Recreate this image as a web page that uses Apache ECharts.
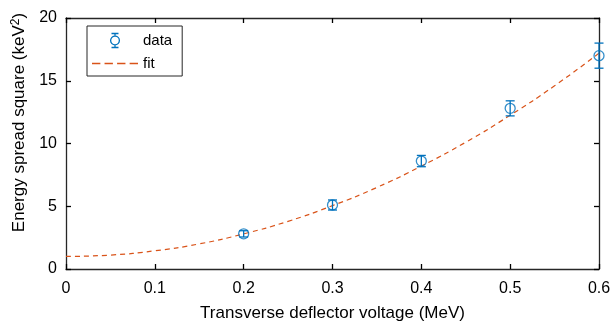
<!DOCTYPE html>
<html><head><meta charset="utf-8">
<script src="https://cdn.jsdelivr.net/npm/echarts@6/dist/echarts.min.js"></script>
<style>html,body{margin:0;padding:0;background:#fff}#c{width:615px;height:327px}</style>
</head><body><div id="c"></div>
<script>
const voltage = [0.2, 0.3, 0.4, 0.5, 0.6];
const spread = [2.8, 5.1, 8.6, 12.8, 17.0];
const errLow = [2.55, 4.7, 8.15, 12.2, 16.0];
const errHigh = [3.05, 5.5, 9.05, 13.4, 18.0];
const fitX = [0, 0.05, 0.1, 0.15, 0.2, 0.25, 0.3, 0.35, 0.4, 0.45, 0.5, 0.55, 0.6];
const fitY = [1.0, 1.11, 1.45, 2.0, 2.8, 3.8, 5.05, 6.5, 8.2, 10.1, 12.25, 14.6, 17.2];
const xTicks = [0, 0.1, 0.2, 0.3, 0.4, 0.5, 0.6];
const yTicks = [0, 5, 10, 15, 20];

const blue = '#0072BD', orange = '#D95319', axisCol = '#262626';
const font = 'Liberation Sans, Arial, Helvetica, sans-serif';
const chart = echarts.init(document.getElementById('c'));
function axis(extra) {
  return Object.assign({
    axisLine: {show: true, onZero: false, lineStyle: {color: axisCol, width: 1.3}},
    axisTick: {show: true, inside: true, length: 5, lineStyle: {color: '#000', width: 1.3}},
    splitLine: {show: false}
  }, extra);
}
chart.setOption({
  animation: false,
  grid: {left: 66, right: 16, top: 18, bottom: 58, show: false},
  legend: {
    orient: 'vertical', left: 87, top: 26,
    backgroundColor: '#fff', borderColor: axisCol, borderWidth: 1,
    padding: [5, 10, 5, 5], itemGap: 6, itemWidth: 46, itemHeight: 14,
    textStyle: {fontFamily: font, fontSize: 15, color: '#000'},
    data: [
      {name: 'data', icon: 'path://M2,0 L10,0 M6,0 L6,3 M6,13 L6,16 M2,16 L10,16 M6,3 A5,5 0 1,0 6.001,3 Z', itemStyle: {color: 'none', borderColor: blue, borderWidth: 1.3}},
      {name: 'fit', icon: 'path://M0,0 L8,0 L8,1.2 L0,1.2 Z M12,0 L20,0 L20,1.2 L12,1.2 Z M24,0 L32,0 L32,1.2 L24,1.2 Z M36,0 L44,0 L44,1.2 L36,1.2 Z', itemHeight: 1.4, itemStyle: {color: orange, borderWidth: 0}}
    ]
  },
  xAxis: [
    axis({type: 'value', min: xTicks[0], max: xTicks[xTicks.length-1], interval: 0.1,
      name: 'Transverse deflector voltage (MeV)', nameLocation: 'middle', nameGap: 36,
      nameTextStyle: {fontFamily: font, fontSize: 17, color: '#000'},
      axisLabel: {fontFamily: font, fontSize: 16, color: '#000', margin: 12}}),
    axis({type: 'value', position: 'top', min: 0, max: 0.6, interval: 0.1, axisLabel: {show: false}})
  ],
  yAxis: [
    axis({type: 'value', min: yTicks[0], max: yTicks[yTicks.length-1], interval: 5,
      name: 'Energy spread square (keV{s|2})', nameLocation: 'middle', nameGap: 32,
      nameTextStyle: {fontFamily: font, fontSize: 17, color: '#000', padding: [0, 0, 0, 42],
        rich: {s: {fontFamily: font, fontSize: 12, color: '#000', verticalAlign: 'top', padding: [0, 0, 8, 0]}}},
      axisLabel: {fontFamily: font, fontSize: 16, color: '#000', margin: 9}}),
    axis({type: 'value', position: 'right', min: 0, max: 20, interval: 5, axisLabel: {show: false}})
  ],
  series: [
    {name: 'fit', type: 'line', smooth: true, symbol: 'none', data: fitX.map((x, i) => [x, fitY[i]]),
      lineStyle: {color: orange, width: 1.2, type: [5, 4]}, itemStyle: {color: orange}, z: 2},
    {name: 'data', type: 'custom', z: 3,
      data: voltage.map((x, i) => [x, errLow[i], errHigh[i]]),
      renderItem: function (params, api) {
        const lo = api.coord([api.value(0), api.value(1)]);
        const hi = api.coord([api.value(0), api.value(2)]);
        const w = 4.5;
        const st = {stroke: blue, lineWidth: 1.3};
        return {type: 'group', children: [
          {type: 'line', shape: {x1: lo[0], y1: lo[1], x2: hi[0], y2: hi[1]}, style: st},
          {type: 'line', shape: {x1: lo[0]-w, y1: lo[1], x2: lo[0]+w, y2: lo[1]}, style: st},
          {type: 'line', shape: {x1: hi[0]-w, y1: hi[1], x2: hi[0]+w, y2: hi[1]}, style: st}
        ]};
      },
      itemStyle: {color: blue}
    },
    {name: 'data', type: 'scatter', symbol: 'circle', symbolSize: 10, z: 4,
      data: voltage.map((x, i) => [x, spread[i]]),
      itemStyle: {color: 'rgba(0,0,0,0)', borderColor: blue, borderWidth: 1.3}}
  ]
});
</script></body></html>
